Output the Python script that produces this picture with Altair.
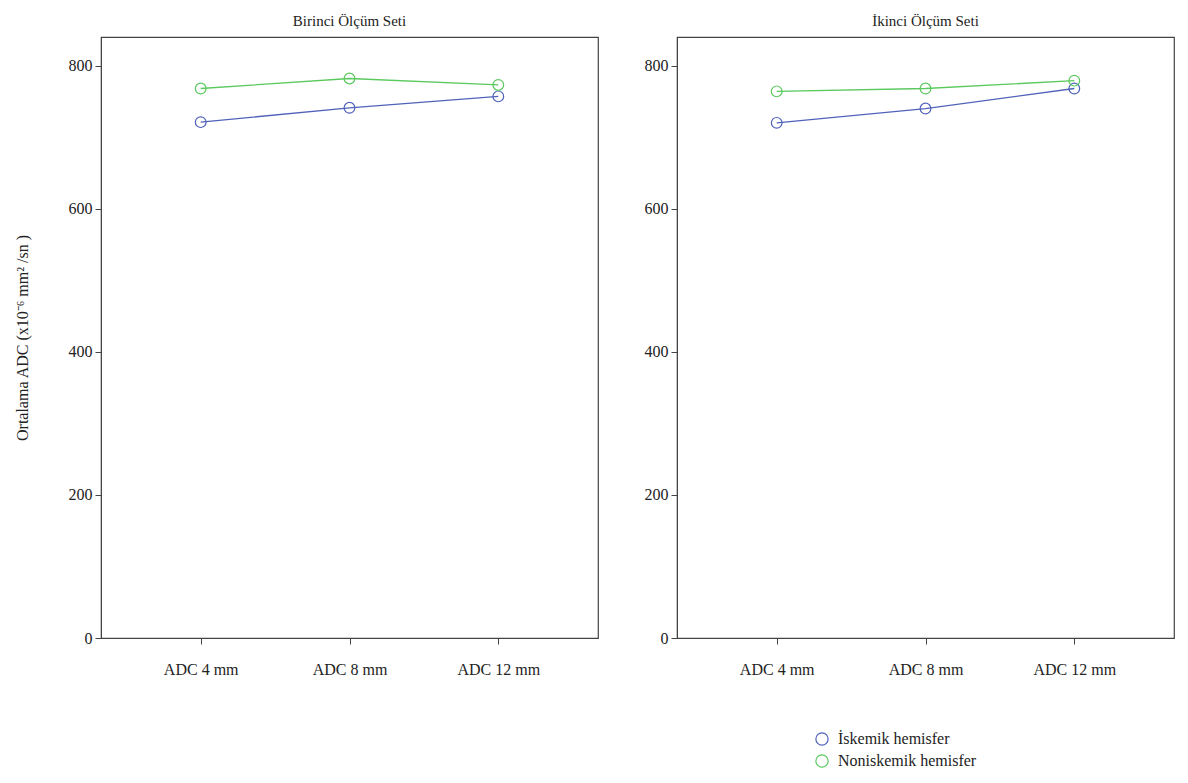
import altair as alt
import pandas as pd

categories = ["ADC 4 mm", "ADC 8 mm", "ADC 12 mm"]
series = ["İskemik hemisfer", "Noniskemik hemisfer"]
set1_iskemik = [721, 741, 757]
set1_noniskemik = [768, 782, 773]
set2_iskemik = [720, 740, 768]
set2_noniskemik = [764, 768, 779]
panel_titles = ["Birinci Ölçüm Seti", "İkinci Ölçüm Seti"]
y_ticks = [0, 200, 400, 600, 800]
colors = ["#5062ba", "#5ac95e"]

FONT = "Liberation Serif"


def make_df(isk, non):
    rows = []
    for c, v in zip(categories, isk):
        rows.append({"cat": c, "series": series[0], "value": v})
    for c, v in zip(categories, non):
        rows.append({"cat": c, "series": series[1], "value": v})
    return pd.DataFrame(rows)


def panel(df, title, show_ytitle):
    base = alt.Chart(df).encode(
        x=alt.X(
            "cat:N",
            sort=categories,
            scale=alt.Scale(type="point", padding=0.67),
            axis=alt.Axis(title=None, labelAngle=0, labelPadding=17),
        ),
        y=alt.Y(
            "value:Q",
            scale=alt.Scale(domain=[0, 840], nice=False, zero=True),
            axis=alt.Axis(
                values=y_ticks,
                title="Ortalama ADC (x10⁻⁶ mm² /sn )" if show_ytitle else None,
                titlePadding=38,
                labelPadding=3,
                grid=False,
            ),
        ),
        color=alt.Color(
            "series:N",
            scale=alt.Scale(domain=series, range=colors),
            legend=alt.Legend(
                title=None,
                orient="none",
                legendX=713,
                legendY=694,
                symbolType="circle",
                symbolSize=150,
                symbolStrokeWidth=1.2,
                labelFont=FONT,
                labelFontSize=16,
                labelColor="#222",
                labelOffset=8,
                rowPadding=4,
            ),
        ),
    )
    line = base.mark_line(strokeWidth=1.3)
    pts = base.mark_point(shape="circle", filled=False, size=115, strokeWidth=1.2, opacity=1)
    return (line + pts).properties(
        width=497,
        height=601,
        title=alt.TitleParams(title, offset=8),
    )


left = panel(make_df(set1_iskemik, set1_noniskemik), panel_titles[0], True)
right = panel(make_df(set2_iskemik, set2_noniskemik), panel_titles[1], False)

chart = (
    alt.hconcat(left, right, spacing=44)
    .resolve_scale(y="shared", color="shared")
    .configure_view(stroke="#444", strokeWidth=1.2)
    .configure_title(font=FONT, fontSize=15, fontWeight="normal", color="#222")
    .configure_axis(
        labelFont=FONT,
        labelFontSize=16,
        labelColor="#222",
        titleFont=FONT,
        titleFontSize=16,
        titleFontWeight="normal",
        titleColor="#222",
        domainColor="#444",
        tickColor="#444",
        tickSize=6,
        grid=False,
    )
)

chart.save("out.html", embed_options={"renderer": "svg", "actions": False})
